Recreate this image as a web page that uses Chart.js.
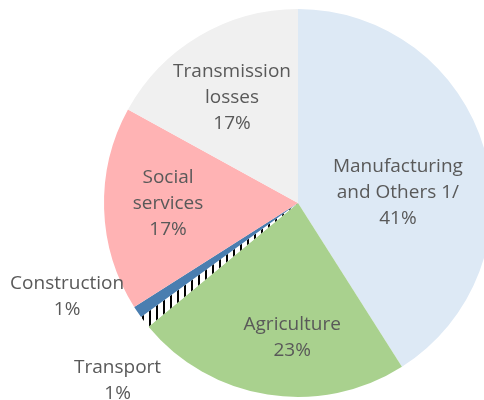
<!DOCTYPE html>
<html>
<head>
<meta charset="utf-8">
<script src="https://cdn.jsdelivr.net/npm/chart.js@4"></script>
<style>
  html, body { margin: 0; padding: 0; background: #fff; overflow: hidden; }
  #wrap { width: 500px; height: 400px; }
</style>
</head>
<body>
<div id="wrap"><canvas id="graficoPizza" width="500" height="400"></canvas></div>
<script>
const categorias = ['Manufacturing and Others 1/', 'Agriculture', 'Transport', 'Construction', 'Social services', 'Transmission losses'];
const linhasRotulo = [['Manufacturing', 'and Others 1/'], ['Agriculture'], ['Transport'], ['Construction'], ['Social', 'services'], ['Transmission', 'losses']];
const percentuais = [41, 23, 1, 1, 17, 17];

// hachura preta/branca do Transport (tracos quase verticais)
function hachura() {
  const c = document.createElement('canvas');
  c.width = 7; c.height = 7;
  const g = c.getContext('2d');
  g.fillStyle = '#fff';
  g.fillRect(0, 0, 7, 7);
  g.fillStyle = '#000';
  g.fillRect(2, 0, 2, 7);
  return g.createPattern(c, 'repeat');
}

const cores = ['#dde9f5', '#a9d18e', hachura(), '#4a7eb0', '#ffb3b4', '#f0f0f0'];

// posição dos rótulos em fração do raio, relativo ao centro
const posRotulo = [[0.515, -0.055], [-0.03, 0.695], [-0.93, 0.915], [-1.19, 0.485], [-0.67, 0.005], [-0.34, -0.545]];

const pluginRotulos = {
  id: 'rotulos',
  afterDatasetsDraw(chart) {
    const ctx = chart.ctx;
    const arc = chart.getDatasetMeta(0).data[0];
    const cx = arc.x, cy = arc.y, r = arc.outerRadius;
    ctx.save();
    ctx.font = '19px "Open Sans"';
    ctx.fillStyle = '#595959';
    ctx.textAlign = 'center';
    ctx.textBaseline = 'middle';
    const lh = 26;
    percentuais.forEach((v, i) => {
      const linhas = linhasRotulo[i].concat([v + '%']);
      const x = cx + posRotulo[i][0] * r;
      const y = cy + posRotulo[i][1] * r;
      const y0 = y - (linhas.length - 1) * lh / 2;
      linhas.forEach((t, k) => ctx.fillText(t, x, y0 + k * lh));
    });
    ctx.restore();
  }
};

new Chart(document.getElementById('graficoPizza'), {
  type: 'pie',
  data: {
    labels: categorias,
    datasets: [{
      data: percentuais,
      backgroundColor: cores,
      borderWidth: 0
    }]
  },
  options: {
    responsive: false,
    animation: false,
    layout: { padding: { left: 104, right: 8, top: 9, bottom: 3 } },
    plugins: {
      legend: { display: false },
      tooltip: { enabled: false }
    }
  },
  plugins: [pluginRotulos]
});
</script>
</body>
</html>
